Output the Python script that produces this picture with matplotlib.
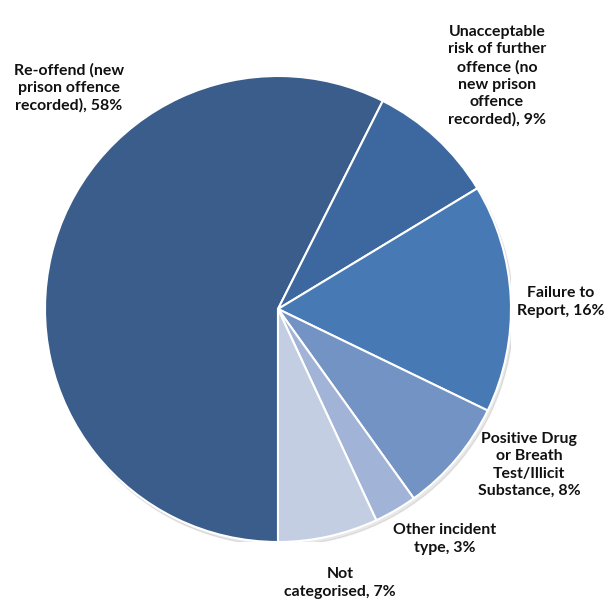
import matplotlib.pyplot as plt

# recall outcome shares, drawn clockwise from 6 o'clock
labels = ["Re-offend (new\nprison offence\nrecorded), 58%",
          "Unacceptable\nrisk of further\noffence (no\nnew prison\noffence\nrecorded), 9%",
          "Failure to\nReport, 16%",
          "Positive Drug\nor Breath\nTest/Illicit\nSubstance, 8%",
          "Other incident\ntype, 3%",
          "Not\ncategorised, 7%"]
shares = [58, 9, 16, 8, 3, 7]
colors = ["#3A5D8B", "#3D689F", "#4779B5", "#7293C4", "#A1B3D6", "#C3CEE3"]

# label centres in pixels (x from left, y from top)
label_xy = [(69, 88), (497, 76), (561, 302), (529, 465), (445, 539), (340, 583)]

W, H = 616, 601
cx, cy, r = 278, 309, 233

fig = plt.figure(figsize=(W / 100, H / 100), dpi=100)
ax = fig.add_axes([(cx - r) / W, (H - cy - r) / H, 2 * r / W, 2 * r / H])

# faint drop shadow under the pie
shadow = plt.Circle((0.01, -0.015), 1.0, color="#000000", alpha=0.09, zorder=0)
ax.add_patch(shadow)

ax.pie(shares, colors=colors, startangle=-90, counterclock=False, radius=1,
       wedgeprops=dict(edgecolor="white", linewidth=1.5))
ax.set_xlim(-1, 1)
ax.set_ylim(-1, 1)
ax.axis("off")

for txt, (x, y) in zip(labels, label_xy):
    fig.text(x / W, 1 - y / H, txt, ha="center", va="center",
             fontsize=11.4, fontweight="bold", family="Lato",
             color="#111111", linespacing=1.3)

fig.savefig("out.png", dpi=100, facecolor="white")
